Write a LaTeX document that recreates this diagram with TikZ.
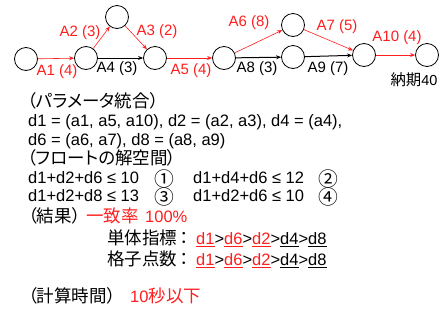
\documentclass[tikz,border=0pt]{standalone}
\usepackage{fontspec}
\setmainfont{Liberation Sans}
\newfontfamily\jp[Scale=1.06,RawFeature=+palt]{Noto Sans CJK JP}
\newfontfamily\jpw[Scale=1.06]{Noto Sans CJK JP}
\newfontfamily\jpc[Scale=1.2]{Noto Sans CJK JP}
\usetikzlibrary{arrows.meta}
\definecolor{ared}{RGB}{255,30,30}
\newcommand\rd[1]{\textcolor{ared}{\underline{#1}}}
\newcommand\bk[1]{\underline{#1}}
\newcommand\dseq{\rd{d1}>\rd{d6}>\rd{d2}>\bk{d4}>\bk{d8}}
\begin{document}
\begin{tikzpicture}[x=1pt,y=-1pt,
  ev/.style={circle,draw=black,line width=0.8pt,minimum size=23pt,inner sep=0pt},
  crit/.style={draw=ared,line width=0.6pt,-{Stealth[length=5pt,width=4pt]}},
  norm/.style={draw=black,line width=1pt,-{Stealth[length=5pt,width=4pt]}},
  lab/.style={font=\fontsize{15}{15}\selectfont,inner sep=0pt},
  rlab/.style={lab,text=ared},
  txt/.style={anchor=west,inner sep=0pt,font=\fontsize{16.5}{19}\selectfont,text height=12pt,text depth=3pt},
  circ/.style={anchor=center,inner sep=0pt,font=\fontsize{16.5}{19}\selectfont},
]
\path[use as bounding box] (0,0) rectangle (441,322);
% network
\node[ev] (n1) at (26,59) {};
\node[ev] (n2) at (86,58) {};
\node[ev] (n3) at (117,17) {};
\node[ev] (n4) at (155,58) {};
\node[ev] (n5) at (224,58) {};
\node[ev] (n6) at (293,25) {};
\node[ev] (n7) at (293,57) {};
\node[ev] (n8) at (364,55) {};
\node[ev] (n9) at (427,55) {};
\draw[crit] (n1) -- (n2);
\draw[crit] (n2) -- (n3);
\draw[crit] (n3) -- (n4);
\draw[norm] (n2) -- (n4);
\draw[crit] (n4) -- (n5);
\draw[crit] (n5) -- (n6);
\draw[crit] (n6) -- (n8);
\draw[norm] (n5) -- (n7);
\draw[norm] (n7) -- (n8);
\draw[crit] (n8) -- (n9);
\node[rlab] (l1) at (57,72) {A1 (4)};
\node[rlab] (l2) at (80,33) {A2 (3)};
\node[rlab] (l3) at (157,32) {A3 (2)};
\node[lab] (l4) at (117,69) {A4 (3)};
\node[rlab] (l5) at (191,71) {A5 (4)};
\node[rlab] (l6) at (249,23) {A6 (8)};
\node[rlab] (l7) at (337,27) {A7 (5)};
\node[lab] (l8) at (257,69) {A8 (3)};
\node[lab] (l9) at (328,69) {A9 (7)};
\node[rlab] (l10) at (397,38) {A10 (4)};
\node[lab,font=\fontsize{14.5}{15}\selectfont] (due) at (414,80) {{\jp 納期}40};
% text
\node[txt] (t1) at (27,103) {\jp （パラメータ統合）};
\node[txt] (t2) at (28,122) {d1 = (a1, a5, a10), d2 = (a2, a3), d4 = (a4),};
\node[txt] (t3) at (28,141) {d6 = (a6, a7), d8 = (a8, a9)};
\node[txt] (t4) at (27,160) {\jp （フロートの解空間）};
\node[txt] (t5) at (28,179) {d1+d2+d6 ≤ 10};
\node[circ] (c1) at (164,178.5) {\jpc ①};
\node[txt] (t6) at (193,179) {d1+d4+d6 ≤ 12};
\node[circ] (c2) at (328,178.5) {\jpc ②};
\node[txt] (t7) at (28,197) {d1+d2+d8 ≤ 13};
\node[circ] (c3) at (164,196.5) {\jpc ③};
\node[txt] (t8) at (193,197) {d1+d2+d6 ≤ 10};
\node[circ] (c4) at (328,196.5) {\jpc ④};
\node[txt] (t9) at (28,218) {\jp （結果）};
\node[txt,text=ared] (t10) at (86,218) {\jp 一致率};
\node[txt,text=ared] (t11) at (145,218) {100\%};
\node[txt] (t12) at (107,240) {\jp 単体指標};
\node[txt,anchor=center] (t13) at (184,240) {\jpw ：};
\node[txt] (t14) at (196,240) {\dseq};
\node[txt] (t15) at (107,261) {\jp 格子点数};
\node[txt,anchor=center] (t16) at (184,261) {\jpw ：};
\node[txt] (t17) at (196,261) {\dseq};
\node[txt] (t18) at (28,298) {\jp （計算時間）};
\node[txt,text=ared] (t19) at (130,298) {10{\jp 秒以下}};
\end{tikzpicture}
\end{document}
